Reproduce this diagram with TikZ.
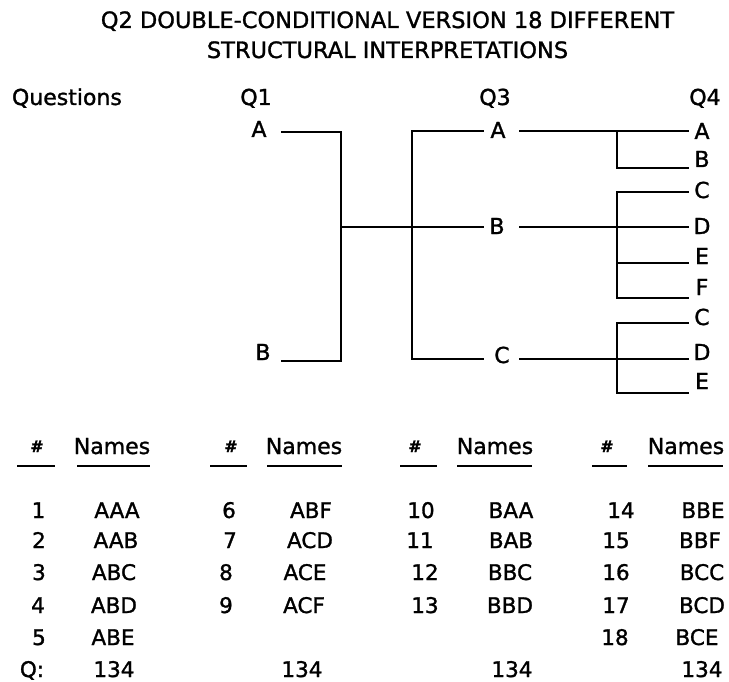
\documentclass[tikz,border=0pt]{standalone}
\usepackage{fontspec}
\setmainfont[FakeBold=1.3]{DejaVu Sans}
\begin{document}
\begin{tikzpicture}[x=1pt,y=-1pt,
  every node/.style={inner sep=0pt,outer sep=0pt},
  txt/.style={font=\fontsize{22}{24}\selectfont,anchor=base},
  ttl/.style={font=\fontsize{22.5}{24}\selectfont,anchor=base},
  row/.style={font=\fontsize{21.5}{24}\selectfont,anchor=base},
  hash/.style={font=\fontsize{16}{18}\selectfont\bfseries,anchor=base},
  ln/.style={line width=2.6pt,line cap=rect}]
\useasboundingbox (0,0) rectangle (729,682);
% title
\node[ttl] (t1) at (387.5,28) {Q2 DOUBLE-CONDITIONAL VERSION 18 DIFFERENT};
\node[ttl] (t2) at (387.5,58) {STRUCTURAL INTERPRETATIONS};
% column headings
\node[txt,anchor=base west] (qs) at (12,105) {Questions};
\node[txt] (q1) at (256,105) {Q1};
\node[txt] (q3) at (495,105) {Q3};
\node[txt] (q4) at (705,105) {Q4};
% Q1 options
\node[txt] (q1a) at (259,137) {A};
\node[txt] (q1b) at (263,360) {B};
% Q3 options
\node[txt] (q3a) at (498,138) {A};
\node[txt] (q3b) at (497,234) {B};
\node[txt] (q3c) at (502,363) {C};
% Q4 options
\foreach \n/\l/\y in {a/A/139,b/B/167,c/C/198,d/D/234,e/E/264,f/F/295,c2/C/325,d2/D/360,e2/E/389}
  \node[txt] (q4\n) at (702,\y) {\l};
% coordinates for the tree
\coordinate (a1s) at (282,132);
\coordinate (a1j) at (341,132);
\coordinate (b1j) at (341,361);
\coordinate (b1s) at (282,361);
\coordinate (m1) at (341,227);
\coordinate (b3e) at (483,227);
\coordinate (a3e) at (483,131);
\coordinate (a3j) at (412,131);
\coordinate (c3j) at (412,359);
\coordinate (c3e) at (483,359);
\coordinate (a3r) at (520,131);
\coordinate (b3r) at (520,227);
\coordinate (c3r) at (520,359);
\coordinate (r4a) at (688,131);
\coordinate (r4b) at (688,168);
\coordinate (r4c) at (688,192);
\coordinate (r4d) at (688,227);
\coordinate (r4e) at (688,263);
\coordinate (r4f) at (688,298);
\coordinate (r4c2) at (688,323);
\coordinate (r4d2) at (688,359);
\coordinate (r4e2) at (688,393);
% Q1 bracket
\draw[ln] (a1s) -- (a1j) -- (b1j) -- (b1s);
\draw[ln] (m1) -- (b3e);
% Q3 bracket
\draw[ln] (a3e) -- (a3j) -- (c3j) -- (c3e);
% Q3 to Q4 lines
\draw[ln] (a3r) -- (r4a);
\draw[ln] (b3r) -- (r4d);
\draw[ln] (c3r) -- (r4d2);
% Q4 brackets
\draw[ln] (617,131) -- (617,168) -- (r4b);
\draw[ln] (r4c) -- (617,192) -- (617,298) -- (r4f);
\draw[ln] (617,263) -- (r4e);
\draw[ln] (r4c2) -- (617,323) -- (617,393) -- (r4e2);
% table headers
\foreach \i/\hx/\nx/\ha/\hb/\na/\nb in {1/37/112/17/55/77/150, 2/231/304/210/247/267/342, 3/415/495/400/437/457/532, 4/607/686/592/627/648/723}{
  \node[hash] (h\i) at (\hx,452) {\#};
  \node[txt] (n\i) at (\nx,454) {Names};
  \draw[ln,line cap=butt] (\ha,466) -- (\hb,466);
  \draw[ln,line cap=butt] (\na,466) -- (\nb,466);
}
% rows column 1
\foreach \k/\x/\y/\t in {1/38.5/518/1, 2/39/548/2, 3/39/580/3, 4/38/613/4, 5/39/645/5, 6/32/677/{Q:}}
  \node[row] (c1n\k) at (\x,\y) {\t};
\foreach \k/\x/\y/\t in {1/117/518/AAA, 2/116/548/AAB, 3/114/580/ABC, 4/114/613/ABD, 5/113/645/ABE, 6/114/677/134}
  \node[row] (c1m\k) at (\x,\y) {\t};
% column 2
\foreach \k/\x/\y/\t in {1/229/518/6, 2/230/548/7, 3/226/580/8, 4/226/613/9}
  \node[row] (c2n\k) at (\x,\y) {\t};
\foreach \k/\x/\y/\t in {1/311/518/ABF, 2/310/548/ACD, 3/305/580/ACE, 4/304/613/ACF, 6/302/677/134}
  \node[row] (c2m\k) at (\x,\y) {\t};
% column 3
\foreach \k/\x/\y/\t in {1/421/518/10, 2/420/548/11, 3/425/580/12, 4/425/613/13}
  \node[row] (c3n\k) at (\x,\y) {\t};
\foreach \k/\x/\y/\t in {1/511/518/BAA, 2/511/548/BAB, 3/510/580/BBC, 4/510/613/BBD, 6/512/677/134}
  \node[row] (c3m\k) at (\x,\y) {\t};
% column 4
\foreach \k/\x/\y/\t in {1/621/518/14, 2/616/548/15, 3/616/580/16, 4/616/613/17, 5/615/645/18}
  \node[row] (c4n\k) at (\x,\y) {\t};
\foreach \k/\x/\y/\t in {1/703/518/BBE, 2/700/548/BBF, 3/702/580/BCC, 4/702/613/BCD, 5/697/645/BCE, 6/702/677/134}
  \node[row] (c4m\k) at (\x,\y) {\t};
\end{tikzpicture}
\end{document}
